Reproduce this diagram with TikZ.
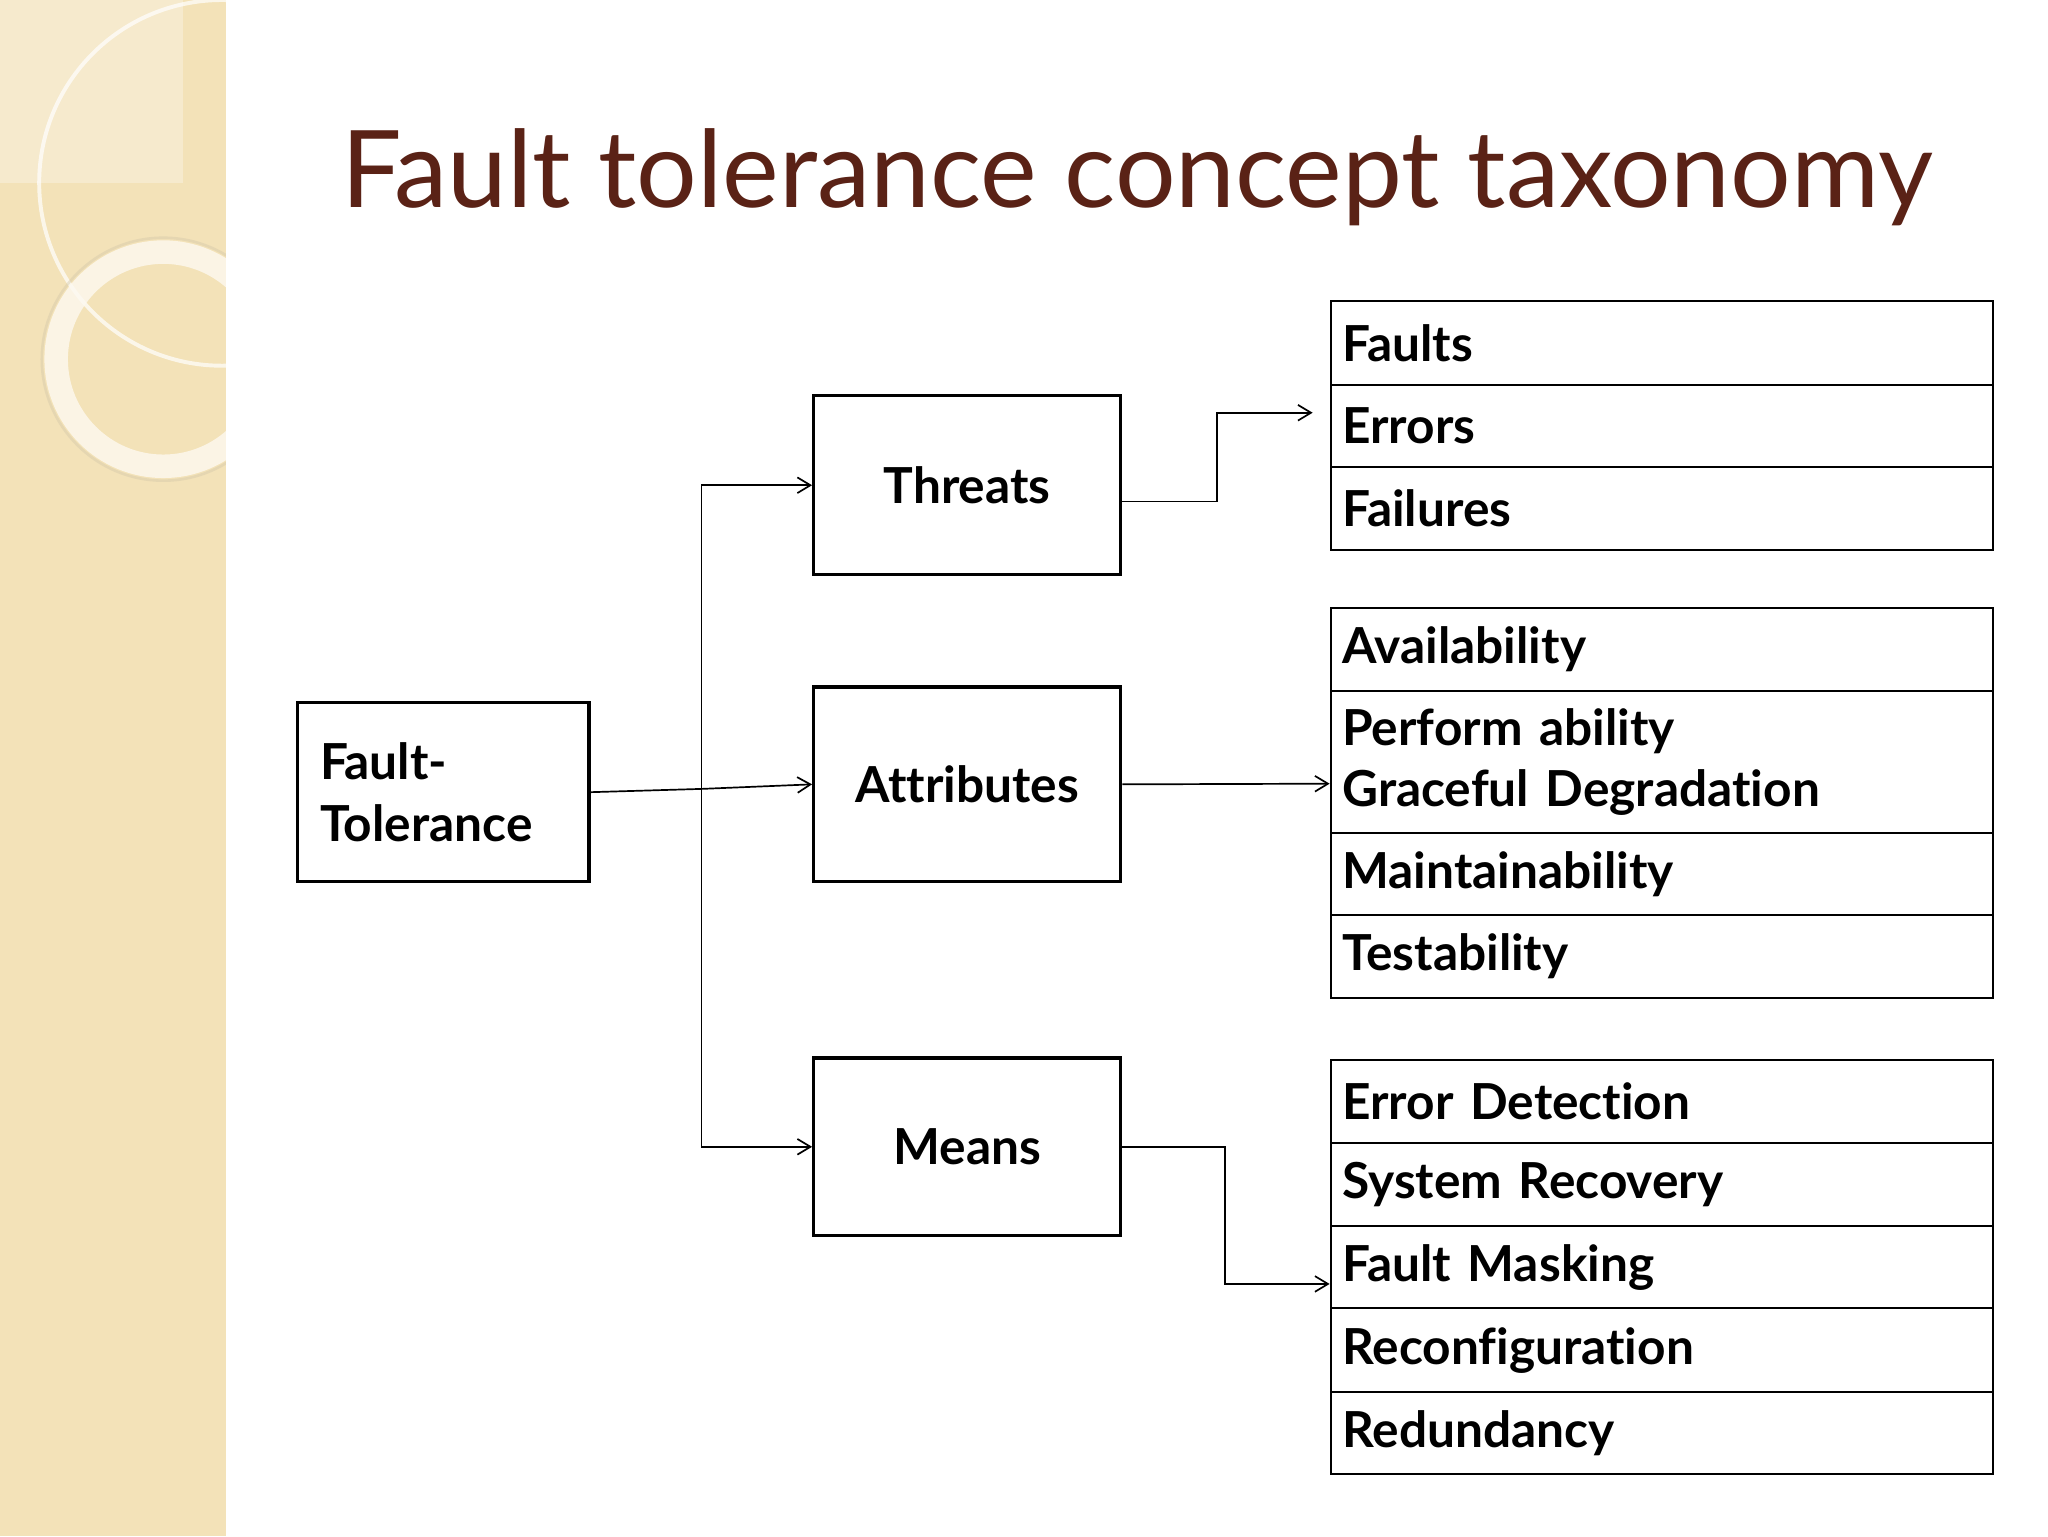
\documentclass[tikz,border=0pt]{standalone}
\usepackage{fontspec}
\setmainfont{Lato}[Ligatures={NoCommon}]
\usetikzlibrary{arrows.meta}
\definecolor{strip}{HTML}{F3E2B8}
\definecolor{titlec}{HTML}{5A2216}
\begin{document}
\begin{tikzpicture}[x=1pt,y=-1pt,
  box/.style={draw,line width=2.5pt,inner sep=0pt,font=\fontsize{38}{47}\selectfont\bfseries},
  cell/.style={draw,line width=1.5pt,minimum width=507pt,inner sep=0pt,anchor=north west,text width=489pt,align=left,font=\fontsize{38}{47}\selectfont\bfseries},
  con/.style={line width=1.3pt,-{Straight Barb[length=10pt,width=12pt]}}]
\useasboundingbox (0,0) rectangle (1568,1176);
\fill[white] (0,0) rectangle (1568,1176);
\fill[strip] (0,0) rectangle (173,1176);
\fill[white,opacity=0.3] (0,0) rectangle (140,140);
\begin{scope}
\clip (0,0) rectangle (173,1176);
\draw[white,opacity=0.7,line width=3pt] (170,140) circle (140);
\draw[white!80!strip,line width=18pt,opacity=0.8] (125,275) circle (82);
\draw[strip!70!gray,opacity=0.4,line width=2pt] (125,275) circle (93);
\end{scope}
\node[anchor=west,text=titlec,font=\fontsize{82}{90}\selectfont] (title) at (258,136) {Fault tolerance concept taxonomy};
\node[box,minimum width=223pt,minimum height=137pt,align=left,text width=189pt] (ft) at (339.5,606.5) {Fault-\\Tolerance};
\node[box,minimum width=235pt,minimum height=137pt] (th) at (740.5,371.5) {Threats};
\node[box,minimum width=235pt,minimum height=149pt] (at) at (740.5,600.5) {Attributes};
\node[box,minimum width=235pt,minimum height=136pt] (me) at (740.5,878) {Means};
% lists
\foreach \n/\y/\h/\t in {f1/230/64/Faults,f2/294/63/Errors,f3/357/63/Failures,
  a1/465/63/Availability,a2/528/109/{Perform ability\\Graceful Degradation},a3/637/63/Maintainability,a4/700/63/Testability,
  m1/811/63/Error Detection,m2/874/64/System Recovery,m3/938/63/Fault Masking,m4/1001/64/Reconfiguration,m5/1065/63/Redundancy}
  \node[cell,minimum height=\h pt] (\n) at (1018,\y) {\t};
\coordinate (jn) at (537,604);
\coordinate (ta) at (1005,316);
\draw[line width=1.3pt] (ft.east) -- (jn);
\draw[con] (jn) |- (th.west);
\draw[con] (jn) -- (at.west);
\draw[con] (jn) |- (me.west);
\draw[con] (858,384) -- (932,384) |- (ta);
\draw[con] (at.east) -- (1018,600);
\draw[con] (me.east) -- (938,878) |- (1018,983);
\end{tikzpicture}
\end{document}
